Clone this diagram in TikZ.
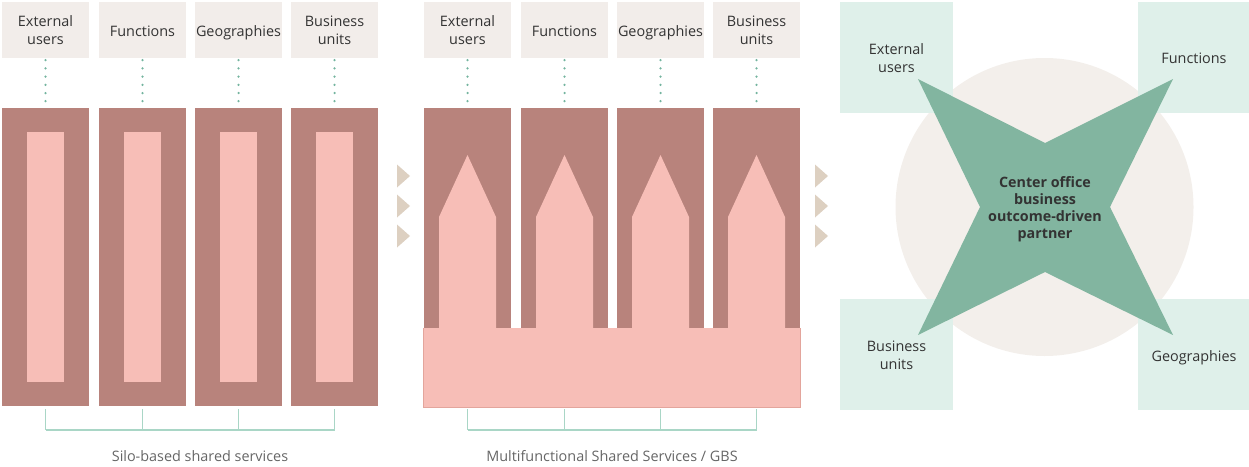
\documentclass[tikz,border=0pt]{standalone}
\usepackage{fontspec}
\setmainfont{Open Sans}
\definecolor{lblgray}{HTML}{F2EDEA}
\definecolor{darkrose}{HTML}{B8837C}
\definecolor{pinkfill}{HTML}{F7BEB7}
\definecolor{pinkedge}{HTML}{E3A59C}
\definecolor{dotgreen}{HTML}{74B49F}
\definecolor{brgreen}{HTML}{A9D6C6}
\definecolor{tribeige}{HTML}{DDD0C1}
\definecolor{circbeige}{HTML}{F3EFEB}
\definecolor{boxgreen}{HTML}{DFF0EA}
\definecolor{stargreen}{HTML}{82B5A0}
\definecolor{txt}{HTML}{333333}
\definecolor{captxt}{HTML}{666666}
\begin{document}
\begin{tikzpicture}[x=1pt,y=-1pt,
  font=\fontsize{14.4}{18}\selectfont,
  lbl/.style={fill=lblgray, minimum width=87pt, minimum height=56pt, inner sep=0pt, align=center, text=txt},
  lbltext/.style={text=txt, align=center, inner sep=0pt},
  one/.style={text depth=0pt},
  silo/.style={fill=darkrose, minimum width=87pt, minimum height=298pt, inner sep=0pt},
  siloinner/.style={fill=pinkfill, minimum width=37pt, minimum height=250pt, inner sep=0pt},
  dark2/.style={fill=darkrose, minimum width=87pt, minimum height=220pt, inner sep=0pt},
  dotline/.style={draw=dotgreen, line width=2.5pt, line cap=round, dash pattern=on 0pt off 8.2pt},
  bracket/.style={draw=brgreen, line width=1.3pt},
  tri/.style={fill=tribeige},
  gbox/.style={fill=boxgreen, minimum width=113pt, minimum height=111pt, inner sep=0pt, align=center, text=txt},
  caption/.style={text=captxt, inner sep=0pt}
]
\useasboundingbox (0,0) rectangle (1249,466);

% ---------- Panel 1 ----------
\foreach \i/\cx/\t/\st/\ty in {1/45.5/{External\\users}/{}/30.5,2/142.5/{Functions}/one/31.5,3/238.5/{Geographies}/one/31.5,4/334.5/{Business\\units}/{}/30.5} {
  \node[lbl] (a\i) at (\cx,30) {};
  \node[lbltext, \st] (at\i) at (\cx,\ty) {\t};
  \node[silo] (s\i) at (\cx,257) {};
  \node[siloinner] (si\i) at (\cx,257) {};
  \draw[dotline] ([yshift=-2pt]a\i.south) -- ([yshift=2pt]s\i.north);
  \coordinate (ba\i) at (\cx,430);
  \draw[bracket] ([yshift=-3pt]s\i.south) -- (ba\i);
}
\draw[bracket] (ba1) -- (ba4);
\node[caption] (cap1) at (200,456) {Silo-based shared services};

% arrows between panels
\foreach \y in {176,206,236} {
  \fill[tri] (397,\y-11.5) -- (410,\y) -- (397,\y+11.5) -- cycle;
  \fill[tri] (815,\y-11.5) -- (828,\y) -- (815,\y+11.5) -- cycle;
}

% ---------- Panel 2 ----------
\foreach \i/\cx/\t/\st/\ty in {1/467.5/{External\\users}/{}/30.5,2/564.5/{Functions}/one/31.5,3/660.5/{Geographies}/one/31.5,4/756.5/{Business\\units}/{}/30.5} {
  \node[lbl] (b\i) at (\cx,30) {};
  \node[lbltext, \st] (bt\i) at (\cx,\ty) {\t};
  \node[dark2] (d\i) at (\cx,218) {};
  \draw[dotline] ([yshift=-2pt]b\i.south) -- ([yshift=2pt]d\i.north);
}
\node[fill=pinkfill, minimum width=376pt, minimum height=79pt, inner sep=0pt] (base) at (612,367.5) {};
\draw[pinkedge, line width=1pt] (base.north west) -- (base.south west) -- (base.south east) -- (base.north east);
\foreach \i/\cx in {1/467.5,2/564.5,3/660.5,4/756.5} {
  \fill[pinkfill] (\cx,155) -- (\cx+28.5,217) -- (\cx+28.5,329) -- (\cx-28.5,329) -- (\cx-28.5,217) -- cycle;
  \coordinate (bb\i) at (\cx,430);
  \draw[bracket] ([yshift=-2pt]base.south -| bb\i) -- (bb\i);
}
\draw[bracket] (bb1) -- (bb4);
\node[caption] (cap2) at (612,456) {Multifunctional Shared Services / GBS};

% ---------- Panel 3 ----------
\fill[circbeige] (1044.5,207) circle[radius=149];
\node[gbox] (g1) at (896.5,57.5) {};
\node[gbox, minimum width=111pt] (g2) at (1193.5,57.5) {};
\node[gbox] (g3) at (896.5,354.5) {};
\node[gbox, minimum width=111pt] (g4) at (1193.5,354.5) {};
\fill[stargreen] (918,79) -- (1045,143) -- (1173,79) -- (1110,207) -- (1173,335) -- (1045,272) -- (918,335) -- (980,207) -- cycle;
\node[lbltext] (g1t) at (896.5,58) {External\\users};
\node[lbltext, one] (g2t) at (1194,58.5) {Functions};
\node[lbltext] (g3t) at (896.5,355.5) {Business\\units};
\node[lbltext, one] (g4t) at (1194,356.5) {Geographies};
\node[lbltext, font=\fontsize{14.3}{17}\selectfont\bfseries] (core) at (1045,209.5) {Center office\\business\\outcome-driven\\partner};
\end{tikzpicture}
\end{document}
